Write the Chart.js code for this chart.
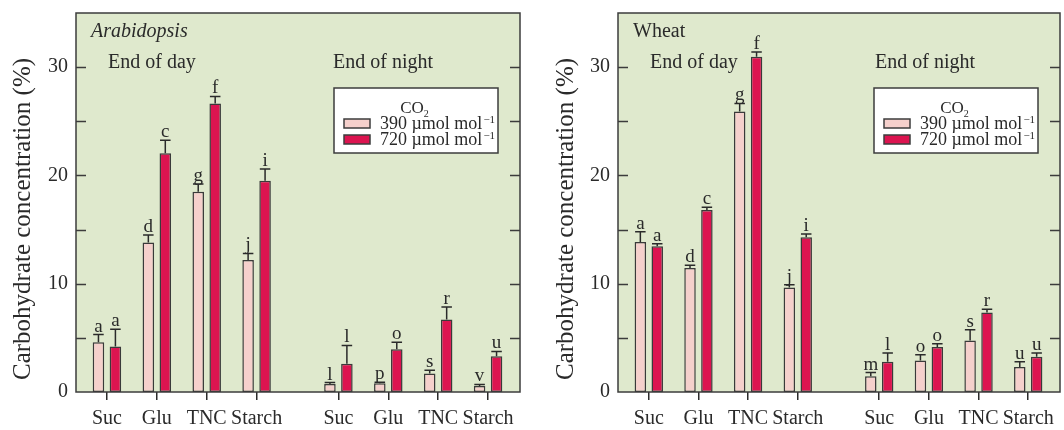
<!DOCTYPE html>
<html>
<head>
<meta charset="utf-8">
<script src="https://cdn.jsdelivr.net/npm/chart.js@4.4.0/dist/chart.umd.min.js"></script>
<style>
  body { margin: 0; background: #fff; }
  #wrap { position: relative; width: 1064px; height: 430px; }
  .panel { position: absolute; top: 0; width: 532px; height: 430px; }
</style>
</head>
<body>
<div id="wrap">
  <div class="panel" style="left:0"><canvas id="arab" width="532" height="430"></canvas></div>
  <div class="panel" style="left:532px"><canvas id="wheat" width="532" height="430"></canvas></div>
</div>
<script>
// categories
const sugars = ["Suc", "Glu", "TNC", "Starch", "Suc", "Glu", "TNC", "Starch"];
const periods = ["End of day", "End of night"];
const yTicks = [0, 10, 20, 30];
const co2Levels = ["390 µmol mol", "720 µmol mol"];
const yTitle = "Carbohydrate concentration (%)";

// Arabidopsis
const arab390 = [4.6, 13.8, 18.5, 12.2, 0.75, 0.8, 1.7, 0.55];
const arab390Err = [0.7, 0.7, 0.7, 0.6, 0.12, 0.1, 0.3, 0.15];
const arab390Letters = ["a", "d", "g", "j", "l", "p", "s", "v"];
const arab720 = [4.2, 22.05, 26.65, 19.5, 2.6, 3.95, 6.7, 3.3];
const arab720Err = [1.6, 1.2, 0.65, 1.1, 1.7, 0.65, 1.15, 0.45];
const arab720Letters = ["a", "c", "f", "i", "l", "o", "r", "u"];

// Wheat
const wheat390 = [13.85, 11.45, 25.9, 9.65, 1.45, 2.9, 4.75, 2.3];
const wheat390Err = [0.95, 0.25, 0.75, 0.25, 0.35, 0.55, 1.0, 0.5];
const wheat390Letters = ["a", "d", "g", "j", "m", "o", "s", "u"];
const wheat720 = [13.45, 16.8, 30.95, 14.3, 2.8, 4.15, 7.35, 3.25];
const wheat720Err = [0.25, 0.25, 0.45, 0.3, 0.8, 0.3, 0.3, 0.35];
const wheat720Letters = ["a", "c", "f", "i", "l", "o", "r", "u"];

const INK = "#2a2a2a";
const SERIF = "'Liberation Serif', 'Times New Roman', serif";
const PINK = "#f5d0cc";
const RED = "#dc1450";
const BG = "#dfe9cd";
const GAP = 0.64; // extra space between the two periods
const xPos = sugars.map((s, i) => i + (i >= 4 ? GAP : 0));

const decor = {
  id: "decor",
  beforeDraw(chart) {
    const { ctx, chartArea: a } = chart;
    ctx.save();
    ctx.fillStyle = BG;
    ctx.fillRect(a.left, a.top, a.right - a.left, a.bottom - a.top);
    ctx.restore();
  },
  afterDatasetsDraw(chart) {
    const ctx = chart.ctx, y = chart.scales.y;
    ctx.save();
    ctx.strokeStyle = INK;
    ctx.fillStyle = INK;
    ctx.lineWidth = 1.5;
    ctx.font = "19px " + SERIF;
    ctx.textAlign = "center";
    ctx.textBaseline = "alphabetic";
    chart.data.datasets.forEach((ds, i) => {
      chart.getDatasetMeta(i).data.forEach((bar, j) => {
        const top = y.getPixelForValue(ds.data[j].y + ds.err[j]);
        const half = bar.width / 2 - 0.5;
        ctx.beginPath();
        ctx.moveTo(bar.x, bar.y);
        ctx.lineTo(bar.x, top);
        ctx.moveTo(bar.x - half, top);
        ctx.lineTo(bar.x + half, top);
        ctx.stroke();
        ctx.fillText(ds.letters[j], bar.x, top - 3);
      });
    });
    ctx.restore();
  },
  afterDraw(chart, args, o) {
    const { ctx, chartArea: a } = chart;
    const y = chart.scales.y;
    ctx.save();
    ctx.strokeStyle = "#3c3c3c";
    ctx.lineWidth = 1.5;
    ctx.strokeRect(a.left, a.top, a.right - a.left, a.bottom - a.top);
    // inward ticks, major and minor
    ctx.beginPath();
    for (let v = 5; v < 35; v += 5) {
      const py = Math.round(y.getPixelForValue(v)) + 0.5;
      ctx.moveTo(a.left, py); ctx.lineTo(a.left + 10, py);
      ctx.moveTo(a.right, py); ctx.lineTo(a.right - 10, py);
    }
    ctx.stroke();

    ctx.fillStyle = INK;
    // y title
    ctx.save();
    ctx.translate(o.titleX, 219);
    ctx.rotate(-Math.PI / 2);
    ctx.font = "25px " + SERIF;
    ctx.textAlign = "center";
    ctx.textBaseline = "middle";
    ctx.fillText(yTitle, 0, 0);
    ctx.restore();

    ctx.textAlign = "left";
    ctx.textBaseline = "alphabetic";
    ctx.font = (o.italic ? "italic " : "") + "20px " + SERIF;
    ctx.fillText(o.name, a.left + 15, a.top + 24);
    ctx.font = "20px " + SERIF;
    ctx.fillText(periods[0], a.left + 32, a.top + 55);
    ctx.fillText(periods[1], a.left + 257, a.top + 55);

    // legend box
    const bw = 164, bh = 65;
    const bx = a.right - 22 - bw, by = a.top + 75;
    ctx.fillStyle = "#fff";
    ctx.fillRect(bx, by, bw, bh);
    ctx.strokeStyle = "#3c3c3c";
    ctx.strokeRect(bx, by, bw, bh);
    ctx.fillStyle = INK;
    ctx.font = "17px " + SERIF;
    const coW = ctx.measureText("CO").width;
    const cx = bx + bw / 2 - 4;
    ctx.fillText("CO", cx - coW / 2, by + 25);
    ctx.font = "10px " + SERIF;
    ctx.fillText("2", cx + coW / 2, by + 29);
    [PINK, RED].forEach((col, k) => {
      const ry = by + 31 + k * 16;
      ctx.fillStyle = col;
      ctx.fillRect(bx + 10, ry, 26, 9);
      ctx.strokeRect(bx + 10, ry, 26, 9);
      ctx.fillStyle = INK;
      ctx.font = "18px " + SERIF;
      const tx = bx + 46, ty = ry + 10;
      ctx.fillText(co2Levels[k], tx, ty);
      const w = ctx.measureText(co2Levels[k]).width;
      ctx.font = "11px " + SERIF;
      ctx.fillText("\u22121", tx + w + 1, ty - 6);
    });
    ctx.restore();
  }
};

function makePanel(id, name, italic, low, lowErr, lowLetters, high, highErr, highLetters, leftW, titleX, rightPad) {
  return new Chart(document.getElementById(id), {
    type: "bar",
    data: {
      datasets: [
        { label: co2Levels[0], data: low.map((v, i) => ({ x: xPos[i], y: v })), err: lowErr, letters: lowLetters,
          backgroundColor: PINK, borderColor: "#3a3a3a", borderWidth: 1.5, borderSkipped: false },
        { label: co2Levels[1], data: high.map((v, i) => ({ x: xPos[i], y: v })), err: highErr, letters: highLetters,
          backgroundColor: RED, borderColor: "#3a3a3a", borderWidth: 1.5, borderSkipped: false }
      ]
    },
    options: {
      responsive: false,
      animation: false,
      devicePixelRatio: 1,
      categoryPercentage: 0.68,
      barPercentage: 0.68,
      layout: { padding: { top: 13, right: rightPad, left: 0, bottom: 0 } },
      plugins: {
        legend: { display: false },
        tooltip: { enabled: false },
        decor: { name: name, italic: italic, titleX: titleX }
      },
      scales: {
        x: {
          type: "linear",
          offset: false,
          min: -0.62,
          max: 8.28,
          afterBuildTicks: (s) => { s.ticks = xPos.map(v => ({ value: v })); },
          afterFit: (s) => { s.height = 38; s.paddingLeft = 0; s.paddingRight = 0; },
          grid: { offset: false, drawOnChartArea: false, drawTicks: true, tickLength: 8, color: INK, lineWidth: 1.5 },
          border: { display: false },
          ticks: {
            autoSkip: false, maxRotation: 0, padding: 7, color: INK,
            font: { family: SERIF, size: 20 },
            callback: (v) => sugars[xPos.indexOf(v)]
          }
        },
        y: {
          min: 0,
          max: 35,
          afterBuildTicks: (s) => { s.ticks = yTicks.map(v => ({ value: v })); },
          afterFit: (s) => { s.width = leftW; s.paddingTop = 0; s.paddingBottom = 0; },
          grid: { display: false, drawTicks: false },
          border: { display: false },
          ticks: { padding: 8, color: INK, font: { family: SERIF, size: 20 } }
        }
      }
    },
    plugins: [decor]
  });
}

makePanel("arab", "Arabidopsis", true, arab390, arab390Err, arab390Letters, arab720, arab720Err, arab720Letters, 76, 23, 12);
makePanel("wheat", "Wheat", false, wheat390, wheat390Err, wheat390Letters, wheat720, wheat720Err, wheat720Letters, 86, 34, 4);
</script>
</body>
</html>
